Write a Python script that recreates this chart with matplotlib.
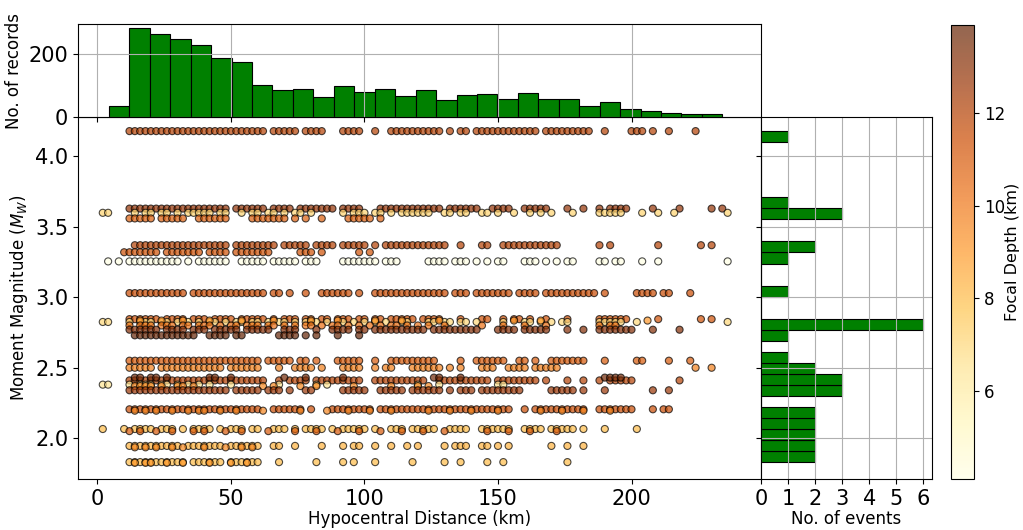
import numpy as np
import matplotlib
matplotlib.use("Agg")
import matplotlib.pyplot as plt

# histogram counts (30 bins each)
dist_counts = [35, 281, 262, 249, 230, 187, 175, 103, 85, 89, 65, 99, 78, 89, 66,
               85, 55, 71, 73, 56, 75, 56, 56, 34, 48, 25, 18, 12, 10, 10]
dist_lo, dist_hi = 4.3, 234.0
mag_counts = [2, 2, 2, 2, 2, 0, 3, 3, 2, 1, 0, 1, 6, 0, 0,
              1, 0, 0, 1, 2, 0, 0, 3, 1, 0, 0, 0, 0, 0, 1]
mag_lo, mag_hi = 1.83, 4.18

# one entry per event: magnitude, focal depth, and the records along distance
# (each '#' = a record, one character per 2 km starting at 0 km)
ev_mag = [4.18, 3.63, 3.60, 3.56, 3.37, 3.32, 3.255, 3.03,
          2.845, 2.825, 2.835, 2.80, 2.77, 2.73,
          2.55, 2.50, 2.41, 2.43, 2.38, 2.37, 2.34,
          2.205, 2.195, 2.065, 2.05, 1.945, 1.935, 1.83, 1.825]
ev_depth = [12.0, 12.8, 7.2, 10.8, 12.0, 11.3, 4.1, 11.5,
            11.3, 7.0, 9.0, 10.2, 13.2, 13.9,
            11.0, 9.8, 12.0, 13.6, 6.5, 9.5, 12.6,
            11.5, 9.6, 8.0, 11.0, 8.3, 9.5, 8.0, 9.0]
ev_rows = [
    "......#### ########## ########## ##.#####.# ###...#### ..#..##### #####.#.## .######### ###.###### ###..#.... ###.#..#.. ..#.......",
    "......#### ########## #####.#### ##.####.## #####.#### ...####### #####.#### ##..####.. #####...#. .#..#.#### ....#....# .....#.#..",
    ".##....#.# #.##.#.### ##.##..#.# #.##.#.##. #.....#.## #.##.#.### ###..##.## ..##.#..#. .#.#.#...# ....#####. ..#..#..#. ........#.",
    "......#### #.#####..# #####....# ######.#.# ..#....### ##.#......",
    ".......### ########## #####.#### ####.##### .####.#### #.#.###### ######..#. ..##..#### #######... ....#.#... .....#.... ...#.#....",
    ".....##### ##.####### .####.#### ###.....## #.#......# .#........",
    "..#.#.#### ######.#.# #####..### ##.#####.# ##....#### ###.###... ..####.### .#.#.##... ###.#.#.## ....##.##. ..#..#.... ........#.",
    "......#### #######.## ########## ##.##.#..# ..######.# ..######## ######.### .#######.# ###.###### ####.#.... .####.##.. .#........",
    "......#### ##.####.## #.####.### ##.#.###.# #.##.###.# #.##.##### .####...#. ..##..#.## .#..#...#. ....###### .....#.... ...#.#....",
    ".##...#.## #.##.#.#.# .##.#.##.# #.#.##.#.# ##.#..#.#. #.#.#..##. ..##.##.## .#....#... ##.#.#.##. ....#####. .#........ ........#.",
    "........#. ..#...#... .#.....#.. ...#...... #....#.... ..#....#.. ....#..... ........#. ...#...... .......... ...#......",
    "......#.## #.###.##.# ##.#.##.## #.##.#.#.# #.#.##.#.# .#.#.##.#. #.#..#.... ..#...#... #...#..... ....#.##..",
    "......#### ##.####.## #.#####.## ###..###.. .#..####.# #.######## ##.####### ##...####. #####...#. .#..###### #...#....#",
    ".......### #########. .####.##.. ....####.# .#...#...#",
    "......#### ########## ########## #.#####.## .#...##### ..#..##### ####....#. .######..# #.#..##### ##...#.... .##....#.. .#........",
    "......#### #.######## ####.##### #...#..### #.#...#### ..#.##...# #####.#.#. ..###..### #.#####... .......... .......... ..#..#....",
    "......#### ########## ########## ##..#.#### .######### ..######## ##..###### ####.##### ###.#...#. .#..#.#### #........#",
    ".......##. ##.#...... .##..#.... .....#...# ......#... .......... ...##...#. .......... .......... .....####.",
    ".##...#.## #.##.#.#.# .#...#.... ....#..... .#.#...... .......... #...#..... .....##...",
    ".......### #.#..##.#. .......... .#.#....#. .#......#. .....#.... #.#.......",
    "......#### ########## #####.#### #.###.#..# #.....#### #..#####.# #####.#.## #.######## .....##### .#...#.... ....#..#..",
    "......#### ########## ########## #..######. #...###### ##.####### ########## ########.. #.######## ##..###### #...#.##.. ..........",
    ".......#.# .#..#..#.# #..#..#... .#......#. ...#...#.. .#...#.... ..#...#... #....#.... ...#...#.. .#....#...",
    ".#...#.### #.###.#.## ##.#.###.# #..###.#.# ###.#.#### #.#..###.# ####..#### ..######.. ####.##### .#...#.... .#........",
    "......#.#. .#..#...#. #...#..#.. ..#....#.. .#...#...# ...#...#.. .#...#.... ...#...#.. .#....#...",
    "......#### ######.### ####.##### #..##..#.. ..#...#.## ..#..#..#. #....#.### ..##.#.#.. .....#..#. .#........",
    ".......#.# .#..#.#... #...#..#.# .......... ..........",
    "......#### #######.## ####.##### #...#..... .#....#.#. ..#......# .....#..#. ...#..#... ........#.",
    ".......#.# #..#..#... .#...#..#.",
]


def row_distances(pattern):
    s = pattern.replace(" ", "")
    return [2.0 * i for i, c in enumerate(s) if c == "#"]


xs, ys, cs = [], [], []
for m, d, r in zip(ev_mag, ev_depth, ev_rows):
    dd = row_distances(r)
    xs += dd
    ys += [m] * len(dd)
    cs += [d] * len(dd)

fig = plt.figure(figsize=(10.23, 5.30), dpi=100)
ax = fig.add_axes([0.0762, 0.0962, 0.6677, 0.683])
ax_top = fig.add_axes([0.0762, 0.7792, 0.6677, 0.1755], sharex=ax)
ax_right = fig.add_axes([0.7439, 0.0962, 0.1667, 0.683], sharey=ax)
cax = fig.add_axes([0.9296, 0.0962, 0.0225, 0.8566])

sc = ax.scatter(xs, ys, c=cs, cmap="YlOrBr", vmin=min(ev_depth), vmax=max(ev_depth),
                s=26, alpha=0.7, edgecolors="black", linewidths=0.8)
ax.set_xlim(-7.3, 248.5)
ax.set_ylim(1.71, 4.28)
ax.set_xticks([0, 50, 100, 150, 200])
ax.set_yticks([2.0, 2.5, 3.0, 3.5, 4.0])
ax.set_yticklabels(["2.0", "2.5", "3.0", "3.5", "4.0"])
ax.tick_params(labelsize=15)
ax.set_xlabel("Hypocentral Distance (km)", fontsize=12, labelpad=1)
ax.set_ylabel("Moment Magnitude ($M_W$)", fontsize=12)

# distance histogram
dist_edges = np.linspace(dist_lo, dist_hi, len(dist_counts) + 1)
ax_top.bar(dist_edges[:-1], dist_counts, width=np.diff(dist_edges), align="edge",
           color="green", edgecolor="black", linewidth=0.8)
ax_top.set_yticks([0, 200])
ax_top.tick_params(labelbottom=False, labelsize=15)
ax_top.grid(True)
ax_top.set_ylabel("No. of records", fontsize=12)

# magnitude histogram
mag_edges = np.linspace(mag_lo, mag_hi, len(mag_counts) + 1)
ax_right.barh(mag_edges[:-1], mag_counts, height=np.diff(mag_edges), align="edge",
              color="green", edgecolor="black", linewidth=0.8)
ax_right.set_xticks(range(7))
ax_right.tick_params(labelleft=False, labelsize=15)
ax_right.grid(True)
ax_right.set_xlabel("No. of events", fontsize=12, labelpad=1)

cb = fig.colorbar(sc, cax=cax)
cb.set_label("Focal Depth (km)", fontsize=11.5, labelpad=0)
cb.ax.tick_params(labelsize=12)

fig.savefig("out.png", dpi=100)
